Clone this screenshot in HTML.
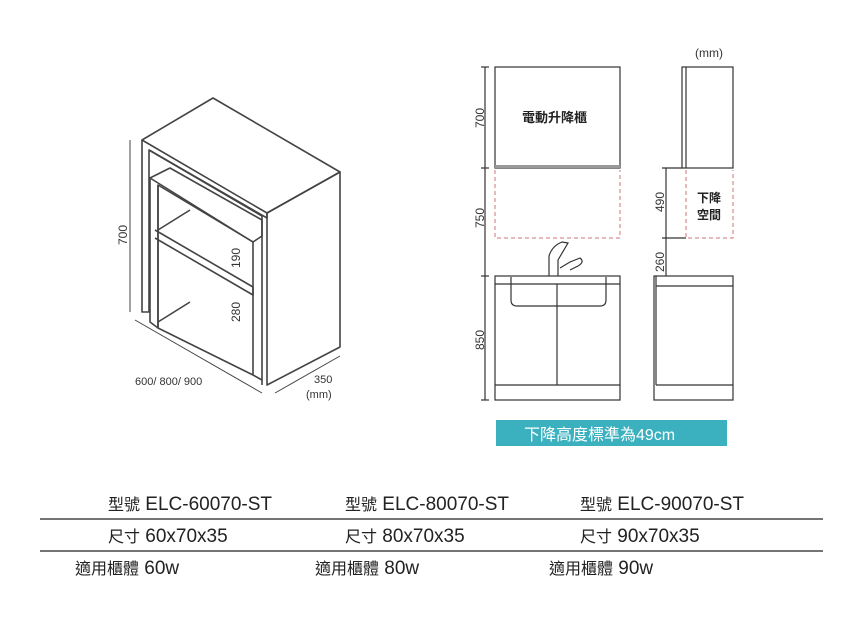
<!DOCTYPE html>
<html><head><meta charset="utf-8"><style>
body{margin:0;background:#fff;}
svg{display:block}
.t{font-family:"Liberation Sans","Noto Sans CJK TC",sans-serif;}
</style></head><body>
<svg width="849" height="622" viewBox="0 0 849 622" xmlns="http://www.w3.org/2000/svg" class="t">
<g fill="none" stroke="#444" stroke-width="1.6" stroke-linejoin="round">
<polygon points="142,140 213,98 340,172 267,213"/>
<polygon points="267,213 340,172 340,347 267,385"/>
<polyline points="142,140 142,312 149,312 149,150 262,216 262,385"/>
<polyline points="149,150 267,218 267,213"/>
<polygon points="150,178 170,168 262,220 262,236 253,242"/>
<polyline points="150,178 150,322 158,328 158,185 253,242 253,375 262,380"/>
<polyline points="158,185 158,328 253,375"/>
<polyline points="155,230 253,287 253,295 155,238 Z"/>
<polyline points="158,230 190,210"/>
<polyline points="158,322 190,302"/>
<line x1="130" y1="140" x2="130" y2="312" stroke-width="1"/>
<line x1="135" y1="320" x2="262" y2="393" stroke-width="1"/>
<line x1="275" y1="393" x2="340" y2="356" stroke-width="1"/>
</g>
<text font-size="12" fill="#333" transform="translate(127,245) rotate(-90)">700</text>
<text font-size="12" fill="#333" transform="translate(240,268) rotate(-90)">190</text>
<text font-size="12" fill="#333" transform="translate(240,322) rotate(-90)">280</text>
<text x="135" y="385" font-size="11" fill="#333">600/ 800/ 900</text>
<text x="314" y="383" font-size="11" fill="#333">350</text>
<text x="306" y="398" font-size="11" fill="#333">(mm)</text>

<g fill="none" stroke="#333" stroke-width="1.2">
<line x1="485" y1="67" x2="485" y2="400"/>
<line x1="481" y1="67" x2="489" y2="67"/><line x1="481" y1="168" x2="489" y2="168"/>
<line x1="481" y1="276" x2="489" y2="276"/><line x1="481" y1="400" x2="489" y2="400"/>
<rect x="495" y="67" width="125" height="101"/>
<rect x="495" y="276" width="125" height="124"/>
<line x1="495" y1="385" x2="620" y2="385"/>
<line x1="557" y1="284" x2="557" y2="385"/>
<line x1="495" y1="284" x2="620" y2="284"/>
<path d="M511,277 V300 Q511,306 517,306 H600 Q606,306 606,300 V277"/>
<path d="M549,276 V256 Q552,246 562,242 L568,243 L558,260 V276 M560,268 L570,262 L580,258 Q585,262 578,266 L570,270"/>
<rect x="682" y="67" width="51" height="101"/>
<line x1="686" y1="67" x2="686" y2="168"/>
<line x1="666" y1="168" x2="666" y2="276"/>
<line x1="662" y1="168" x2="682" y2="168"/><line x1="662" y1="238" x2="686" y2="238"/>
<rect x="654" y="276" width="79" height="124"/>
<line x1="656" y1="286" x2="733" y2="286"/><line x1="656" y1="385" x2="733" y2="385"/>
<line x1="656" y1="276" x2="656" y2="385"/>
</g>
<rect x="495" y="165" width="125" height="3" fill="#999"/>
<g fill="none" stroke="#c77" stroke-width="1" stroke-dasharray="4,3">
<polyline points="495,170 495,238 620,238 620,170"/>
<polyline points="686,170 686,238 733,238 733,170"/>
</g>
<text x="522" y="122" font-size="13" font-weight="bold" fill="#222">電動升降櫃</text>
<text x="697" y="202" font-size="12" font-weight="bold" fill="#222">下降</text>
<text x="697" y="219" font-size="12" font-weight="bold" fill="#222">空間</text>
<text x="695" y="57" font-size="12" fill="#333">(mm)</text>
<g font-size="12" fill="#333">
<text transform="translate(484,128) rotate(-90)">700</text>
<text transform="translate(484,228) rotate(-90)">750</text>
<text transform="translate(484,350) rotate(-90)">850</text>
<text transform="translate(664,212) rotate(-90)">490</text>
<text transform="translate(664,272) rotate(-90)">260</text>
</g>
<rect x="496" y="420" width="231" height="26" fill="#3bb0bf"/>
<text x="524" y="440" font-size="16" fill="#fff">下降高度標準為49cm</text>

<line x1="40" y1="519" x2="823" y2="519" stroke="#222" stroke-width="1.2"/>
<line x1="40" y1="551" x2="823" y2="551" stroke="#222" stroke-width="1.2"/>
<g font-size="19" fill="#222">
<text x="108" y="510"><tspan font-size="16">型號</tspan> ELC-60070-ST</text>
<text x="345" y="510"><tspan font-size="16">型號</tspan> ELC-80070-ST</text>
<text x="580" y="510"><tspan font-size="16">型號</tspan> ELC-90070-ST</text>
<text x="108" y="542"><tspan font-size="16">尺寸</tspan> 60x70x35</text>
<text x="345" y="542"><tspan font-size="16">尺寸</tspan> 80x70x35</text>
<text x="580" y="542"><tspan font-size="16">尺寸</tspan> 90x70x35</text>
<text x="75" y="574"><tspan font-size="16">適用櫃體</tspan> 60w</text>
<text x="315" y="574"><tspan font-size="16">適用櫃體</tspan> 80w</text>
<text x="549" y="574"><tspan font-size="16">適用櫃體</tspan> 90w</text>
</g>
</svg>
</body></html>
